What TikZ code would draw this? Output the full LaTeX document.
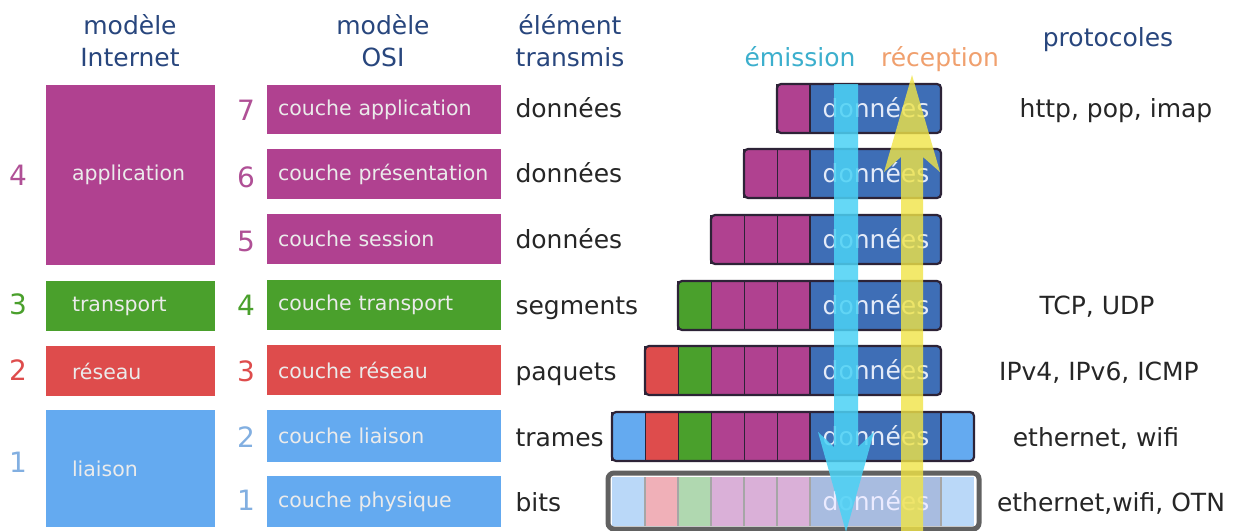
\documentclass[tikz,border=0pt]{standalone}
\usepackage{fontspec}
\setmainfont{DejaVu Sans}
\definecolor{cpurple}{RGB}{176,65,144}
\definecolor{cgreen}{RGB}{74,160,44}
\definecolor{cred}{RGB}{222,76,76}
\definecolor{clblue}{RGB}{100,170,240}
\definecolor{cdblue}{RGB}{62,110,182}
\definecolor{chdr}{RGB}{40,70,125}
\definecolor{npurple}{RGB}{176,80,150}
\definecolor{nblue}{RGB}{130,175,225}
\definecolor{cemis}{RGB}{60,175,205}
\definecolor{crecp}{RGB}{240,160,110}
\definecolor{ccyan}{RGB}{75,210,245}
\definecolor{cyell}{RGB}{240,228,70}
\definecolor{cedge}{RGB}{45,35,55}
\definecolor{ppurple}{RGB}{218,176,216}
\definecolor{pgreen}{RGB}{176,216,176}
\definecolor{pred}{RGB}{240,176,184}
\definecolor{pblue}{RGB}{186,216,248}
\definecolor{pdblue}{RGB}{168,188,224}
\definecolor{ctxt}{RGB}{228,235,248}
\newcommand\stackrow[2]{%
  \foreach \c [count=\i] in #2 {\fill[\c] ({810-\i*33},#1) rectangle ++(33,49);
    \draw[sepline] ({810-\i*33},#1) -- ++(0,49);}%
}
\begin{document}
\begin{tikzpicture}[x=1pt,y=-1pt,
  hdr/.style={text=chdr,font=\fontsize{25}{32}\selectfont,align=center},
  num/.style={font=\fontsize{28}{30}\selectfont},
  word/.style={anchor=base west,font=\fontsize{25}{28}\selectfont,text=black!85},
  proto/.style={anchor=base,font=\fontsize{25}{28}\selectfont,text=black!85},
  ibox/.style={rectangle,minimum width=169pt,inner xsep=26pt,text width=117pt,align=left,
    text=white!92!black,font=\fontsize{20.5}{24}\selectfont},
  obox/.style={rectangle,minimum width=234pt,inner xsep=11pt,text width=212pt,align=left,
    text=white!92!black,font=\fontsize{20.5}{24}\selectfont},
  dtxt/.style={anchor=base,font=\fontsize{25}{28}\selectfont,text=ctxt},
  sepline/.style={draw=cedge,line width=2pt},
  rowedge/.style={draw=cedge,line width=2.2pt,rounded corners=4pt},
]
\fill[white] (0,0) rectangle (1238,530);
\useasboundingbox (0,0) rectangle (1238,530);

% headers
\node[hdr] (hint) at (130,41) {modèle\\Internet};
\node[hdr] (hosi) at (383,41) {modèle\\OSI};
\node[hdr] (helt) at (570,41) {élément\\transmis};
\node[anchor=base,font=\fontsize{25}{28}\selectfont,text=cemis] (hemi) at (800,66) {émission};
\node[anchor=base,font=\fontsize{25}{28}\selectfont,text=crecp] (hrec) at (940,66) {réception};
\node[hdr] (hpro) at (1108,40) {protocoles};

% Internet model boxes
\node[ibox,fill=cpurple,minimum height=180pt] (iapp) at (130.5,175) {application};
\node[ibox,fill=cgreen,minimum height=50pt] (itra) at (130.5,306) {transport};
\node[ibox,fill=cred,minimum height=50pt] (ires) at (130.5,371) {réseau};
\node[ibox,fill=clblue,minimum height=117pt] (ilia) at (130.5,468.5) {liaison};
\node[num,text=npurple] (n4i) at (18,175) {4};
\node[num,text=cgreen] (n3i) at (18,304) {3};
\node[num,text=cred] (n2i) at (18,370) {2};
\node[num,text=nblue] (n1i) at (18,462) {1};

% OSI boxes
\node[obox,fill=cpurple,minimum height=49pt] (o7) at (384,109.5) {couche application};
\node[obox,fill=cpurple,minimum height=50pt] (o6) at (384,174) {couche présentation};
\node[obox,fill=cpurple,minimum height=50pt] (o5) at (384,239) {couche session};
\node[obox,fill=cgreen,minimum height=50pt] (o4) at (384,305) {couche transport};
\node[obox,fill=cred,minimum height=50pt] (o3) at (384,370) {couche réseau};
\node[obox,fill=clblue,minimum height=52pt] (o2) at (384,436) {couche liaison};
\node[obox,fill=clblue,minimum height=51pt] (o1) at (384,501.5) {couche physique};
\node[num,text=npurple] (n7) at (246,110) {7};
\node[num,text=npurple] (n6) at (246,177) {6};
\node[num,text=npurple] (n5) at (246,241) {5};
\node[num,text=cgreen] (n4) at (246,305) {4};
\node[num,text=cred] (n3) at (246,371) {3};
\node[num,text=nblue] (n2) at (246,437) {2};
\node[num,text=nblue] (n1) at (246,500) {1};

% transmitted element
\node[word] (w7) at (512,117) {données};
\node[word] (w6) at (512,182) {données};
\node[word] (w5) at (512,248) {données};
\node[word] (w4) at (512,314) {segments};
\node[word] (w3) at (512,380) {paquets};
\node[word] (w2) at (512,446) {trames};
\node[word] (w1) at (512,511) {bits};

% protocols
\node[proto] (p7) at (1116,117) {http, pop, imap};
\node[proto] (p4) at (1097,314) {TCP, UDP};
\node[proto] (p3) at (1099,380) {IPv4, IPv6, ICMP};
\node[proto] (p2) at (1096,446) {ethernet, wifi};
\node[proto] (p1) at (1111,511) {ethernet,wifi, OTN};

% encapsulation stacks
\def\rowA{cpurple}
\def\rowB{cpurple,cpurple}
\def\rowC{cpurple,cpurple,cpurple}
\def\rowD{cpurple,cpurple,cpurple,cgreen}
\def\rowE{cpurple,cpurple,cpurple,cgreen,cred}
\def\rowF{cpurple,cpurple,cpurple,cgreen,cred,clblue}
\stackrow{84}{\rowA}
\stackrow{149}{\rowB}
\stackrow{215}{\rowC}
\stackrow{281}{\rowD}
\stackrow{346}{\rowE}
\stackrow{412}{\rowF}
\fill[clblue] (941,412) rectangle ++(33,49);
\draw[sepline] (941,412) -- ++(0,49);
\foreach \yt/\xs in {84/777,149/744,215/711,281/678,346/645} {
  \fill[cdblue] (810,\yt) rectangle ++(131,49);
  \draw[sepline] (810,\yt) -- ++(0,49);
  \draw[rowedge] (\xs,\yt) rectangle (941,\yt+49);
  \node[dtxt] at (876,\yt+33.5) {données};
}
\fill[cdblue] (810,412) rectangle ++(131,49);
\draw[sepline] (810,412) -- ++(0,49);
\draw[sepline] (941,412) -- ++(0,49);
\draw[rowedge] (612,412) rectangle (974,461);
\node[dtxt] (d2) at (876,445.5) {données};

% physical row
\fill[pblue] (612,477) rectangle ++(33,49);
\fill[pred] (645,477) rectangle ++(33,49);
\fill[pgreen] (678,477) rectangle ++(33,49);
\fill[ppurple] (711,477) rectangle ++(99,49);
\fill[pdblue] (810,477) rectangle ++(131,49);
\fill[pblue] (941,477) rectangle ++(33,49);
\foreach \xx in {645,678,711,744,777,810,941}
  \draw[draw=black!35,line width=1.2pt] (\xx,477) -- ++(0,49);
\node[dtxt,text=white!92!blue] (d1) at (876,510.5) {données};
\draw[draw=black!62,line width=5pt,rounded corners=6pt] (608,473) rectangle (979,529);

% arrows
\fill[ccyan,opacity=.85] (834,84) -- (858,84) -- (858,447) -- (874,432) -- (846,532)
   -- (818,432) -- (834,447) -- cycle;
\fill[cyell,opacity=.8] (901,532) -- (901,157) -- (884,172) -- (912,75) -- (940,172)
   -- (923,157) -- (923,532) -- cycle;
\end{tikzpicture}
\end{document}
